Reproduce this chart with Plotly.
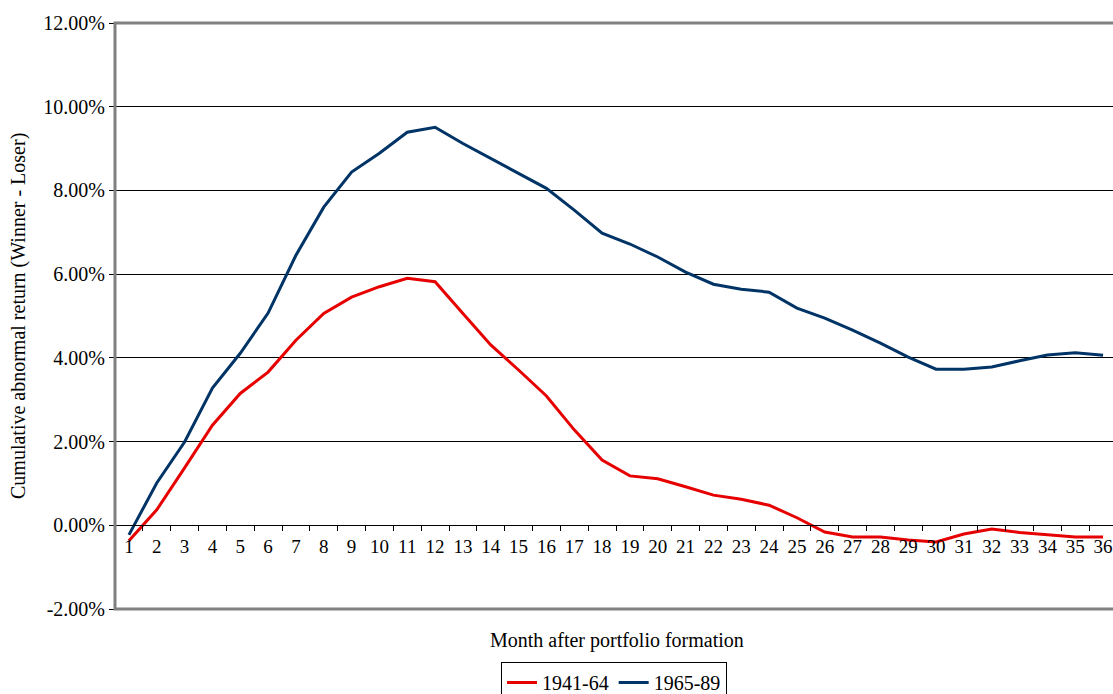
import plotly.graph_objects as go

months = [str(i) for i in range(1, 37)]

car_1941_64 = [-0.37, 0.37, 1.37, 2.39, 3.15, 3.66, 4.42, 5.06, 5.45, 5.70,
               5.90, 5.82, 5.06, 4.31, 3.71, 3.09, 2.28, 1.56, 1.18, 1.11,
               0.92, 0.72, 0.62, 0.48, 0.18, -0.16, -0.28, -0.28, -0.35, -0.40,
               -0.21, -0.09, -0.17, -0.23, -0.28, -0.28]

car_1965_89 = [-0.23, 1.01, 1.99, 3.28, 4.11, 5.07, 6.45, 7.60, 8.44, 8.89,
               9.39, 9.51, 9.12, 8.77, 8.42, 8.05, 7.53, 6.98, 6.72, 6.41,
               6.05, 5.76, 5.64, 5.57, 5.19, 4.95, 4.66, 4.35, 4.02, 3.73,
               3.73, 3.78, 3.93, 4.07, 4.12, 4.06]

y_tickvals = [-2, 0, 2, 4, 6, 8, 10, 12]
y_ticktext = ["-2.00%", "0.00%", "2.00%", "4.00%", "6.00%", "8.00%", "10.00%", "12.00%"]

FONT = "Liberation Serif"

PL, PR, PT, PB = 115, 1117, 23, 609  # plot area edges in page pixels
PW, PH = PR - PL, PB - PT

fig = go.Figure()
fig.add_trace(go.Scatter(x=months, y=car_1941_64, mode="lines", name="1941-64",
                         line=dict(color="#e60000", width=3)))
fig.add_trace(go.Scatter(x=months, y=car_1965_89, mode="lines", name="1965-89",
                         line=dict(color="#003366", width=3)))

fig.update_layout(
    width=1117, height=694,
    margin=dict(l=PL, r=1117 - PR, t=PT, b=694 - PB, pad=0, autoexpand=False),
    paper_bgcolor="white", plot_bgcolor="white",
    font=dict(family=FONT, size=20, color="black"),
    showlegend=True,
    legend=dict(orientation="h", x=(614 - PL) / PW, xanchor="center",
                y=-(662 - PB) / PH, yanchor="top",
                bordercolor="black", borderwidth=1, font=dict(size=20, family=FONT),
                tracegroupgap=0),
    xaxis=dict(type="category", range=[-0.5, 35.5], anchor="free", position=2/14,
               tickmode="array", tickvals=months, ticktext=months, tickangle=0,
               showline=True, linecolor="black", linewidth=1,
               ticks="outside", tickson="boundaries", ticklen=5, tickcolor="black",
               ticklabelstandoff=4, automargin=False,
               showgrid=False, zeroline=False, tickfont=dict(size=19, family=FONT)),
    yaxis=dict(range=[-2, 12], tickvals=y_tickvals, ticktext=y_ticktext,
               showgrid=True, gridcolor="black", gridwidth=1, zeroline=False,
               ticks="outside", ticklen=5, tickcolor="black", showline=False,
               automargin=False, tickfont=dict(size=20, family=FONT)),
    shapes=[dict(type="rect", xref="paper", yref="paper", x0=0, x1=1.05, y0=0, y1=1,
                 line=dict(color="#808080", width=3), layer="above")],
    annotations=[
        dict(text="Month after portfolio formation", xref="paper", yref="paper",
             x=(617 - PL) / PW, y=-(640 - PB) / PH, xanchor="center", yanchor="middle",
             showarrow=False, font=dict(size=20, family=FONT)),
        dict(text="Cumulative abnormal return (Winner - Loser)", xref="paper", yref="paper",
             x=-(PL - 18) / PW, y=0.5, xanchor="center", yanchor="middle", textangle=-90,
             showarrow=False, font=dict(size=20, family=FONT)),
    ],
)

fig.write_html(
    "out.html",
    config={"displayModeBar": False},
    post_script="document.body.style.margin='0';document.body.style.overflow='hidden';",
)
